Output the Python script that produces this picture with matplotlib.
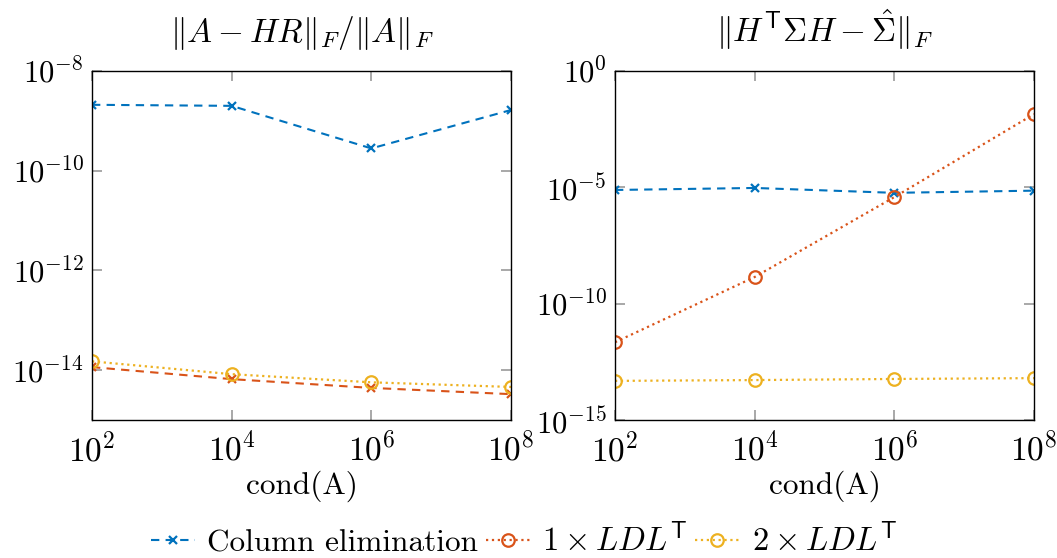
import matplotlib

matplotlib.use("Agg")

import matplotlib.pyplot as plt

# condition numbers on the x axis
cond = [1e2, 1e4, 1e6, 1e8]

# left panel: relative factorization error
col_elim_left = [2.1e-9, 2.0e-9, 2.8e-10, 1.65e-9]
ldl1_left = [1.15e-14, 6.6e-15, 4.4e-15, 3.3e-15]
ldl2_left = [1.5e-14, 8.3e-15, 5.7e-15, 4.6e-15]

# right panel: covariance error
col_elim_right = [7.7e-6, 9.4e-6, 5.8e-6, 7.2e-6]
ldl1_right = [2.2e-12, 1.4e-9, 3.8e-6, 1.4e-2]
ldl2_right = [4.8e-14, 5.2e-14, 5.8e-14, 6.3e-14]

titles = [r"$\|A-HR\|_F/\|A\|_F$", r"$\|H^{\mathsf{T}}\Sigma H-\hat{\Sigma}\|_F$"]
labels = ["Column elimination", r"$1\times LDL^{\mathsf{T}}$", r"$2\times LDL^{\mathsf{T}}$"]

BLUE = "#0072BD"
RED = "#D95319"
YELLOW = "#EDB120"

plt.rcParams["font.family"] = "serif"
plt.rcParams["font.serif"] = ["cmr10", "DejaVu Serif"]
plt.rcParams["mathtext.fontset"] = "cm"
plt.rcParams["axes.formatter.use_mathtext"] = True
plt.rcParams["axes.unicode_minus"] = False

fig = plt.figure(figsize=(10.57, 5.58), dpi=100)
ax1 = fig.add_axes([92 / 1057, 1 - 420 / 558, 419 / 1057, 349 / 558])
ax2 = fig.add_axes([615 / 1057, 1 - 420 / 558, 419 / 1057, 349 / 558])

ax1.plot(cond, col_elim_left, "--", color=BLUE, marker="x", ms=6, mew=1.6, lw=1.5, dashes=(4, 3))
ax1.plot(cond, ldl1_left, "--", color=RED, marker="x", ms=6, mew=1.6, lw=1.5, dashes=(4, 3))
ax1.plot(cond, ldl2_left, ":", color=YELLOW, marker="o", ms=9, mfc="none", mew=1.6, lw=1.6)

h1, = ax2.plot(cond, col_elim_right, "--", color=BLUE, marker="x", ms=6, mew=1.6, lw=1.5, dashes=(4, 3))
h2, = ax2.plot(cond, ldl1_right, ":", color=RED, marker="o", ms=9, mfc="none", mew=1.6, lw=1.6)
h3, = ax2.plot(cond, ldl2_right, ":", color=YELLOW, marker="o", ms=9, mfc="none", mew=1.6, lw=1.6)

for ax, title in zip((ax1, ax2), titles):
    ax.set_xscale("log")
    ax.set_yscale("log")
    ax.set_xlim(1e2, 1e8)
    ax.set_xticks(cond)
    ax.minorticks_off()
    ax.set_title(title, fontsize=24, pad=21)
    ax.set_xlabel("cond(A)", fontsize=22.5, labelpad=3)
    ax.tick_params(which="both", direction="in", length=7, width=1.2, color="#999999",
                   top=True, right=True, labelsize=24, pad=8)
    ax.tick_params(axis="y", labelsize=22, pad=6)
    for spine in ax.spines.values():
        spine.set_linewidth(1.0)

ax1.set_ylim(1e-15, 1e-8)
ax1.set_yticks([1e-14, 1e-12, 1e-10, 1e-8])
ax1.minorticks_off()
ax2.set_ylim(1e-15, 1e0)
ax2.set_yticks([1e-15, 1e-10, 1e-5, 1e0])
ax2.minorticks_off()

leg = fig.legend([h1, h2, h3], labels, loc="center", bbox_to_anchor=(524 / 1057, 1 - 540 / 558),
                 ncol=3, frameon=False, fontsize=22.5, handlelength=1.4, handletextpad=0.4,
                 columnspacing=0.25, borderaxespad=0)
for txt in leg.get_texts()[1:]:
    txt.set_fontsize(23.5)

fig.savefig("out.png", dpi=100)
